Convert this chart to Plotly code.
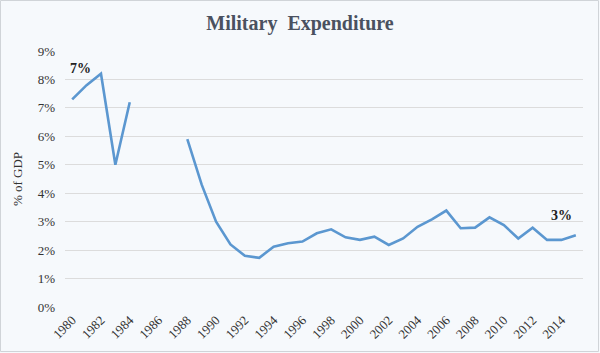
import plotly.graph_objects as go

years = list(range(1980, 2016))
values = [7.3, 7.8, 8.2, 5.0, 7.2, None, None, None, 5.9, 4.3, 3.0, 2.2, 1.8, 1.73,
          2.12, 2.24, 2.3, 2.59, 2.73, 2.45, 2.36, 2.47, 2.18, 2.41, 2.82, 3.08, 3.39,
          2.77, 2.79, 3.15, 2.88, 2.41, 2.79, 2.36, 2.36, 2.52]
tick_years = list(range(1980, 2015, 2))
y_ticks = list(range(0, 10))
y_labels = [f"{v}%" for v in y_ticks]

W, H = 600, 353
L, R, T, B = 65, 17, 51, 46
pw, ph = W - L - R, H - T - B

fig = go.Figure()
fig.add_trace(go.Scatter(x=years, y=values, mode="lines",
                         line=dict(color="#5b97d0", width=2.6),
                         connectgaps=False, hoverinfo="x+y"))

serif = "Liberation Serif, Times New Roman, serif"
fig.add_annotation(x=1980.6, y=8.05, text="<b>7%</b>", showarrow=False,
                   font=dict(family=serif, size=14, color="#222"), xanchor="center", yanchor="bottom")
fig.add_annotation(x=2014.0, y=2.9, text="<b>3%</b>", showarrow=False,
                   font=dict(family=serif, size=14, color="#222"), xanchor="center", yanchor="bottom")

# outer border of chart
fig.add_shape(type="rect", xref="paper", yref="paper",
              x0=(-L + 0.5) / pw, x1=(pw + R - 1.5) / pw,
              y0=(-B + 1.5) / ph, y1=(ph + T - 0.5) / ph,
              line=dict(color="#d0d4d8", width=1), fillcolor="rgba(0,0,0,0)", layer="below")

fig.update_layout(
    width=W, height=H,
    margin=dict(l=L, r=R, t=T, b=B),
    paper_bgcolor="#f6f9fc", plot_bgcolor="#f6f9fc",
    showlegend=False,
    title=dict(text="<b>Military  Expenditure</b>", x=0.5, xanchor="center",
               y=1 - 23 / H, yanchor="middle",
               font=dict(family=serif, size=20, color="#4a5160")),
    xaxis=dict(range=[1979.5, 2015.5], tickmode="array", tickvals=tick_years,
               ticktext=[str(y) for y in tick_years], tickangle=-45,
               showgrid=False, zeroline=False, showline=False, ticks="",
               ticklabelstandoff=2,
               tickfont=dict(family=serif, size=13, color="#333")),
    yaxis=dict(range=[0, 9], tickmode="array", tickvals=y_ticks, ticktext=y_labels,
               showgrid=True, gridcolor="#dcdcdc", gridwidth=1, zeroline=False,
               showline=False, ticks="", ticklabelstandoff=9,
               tickfont=dict(family=serif, size=13, color="#333"),
               title=dict(text="% of GDP", font=dict(family=serif, size=13, color="#333"), standoff=12)),
)

fig.write_html("out.html")
